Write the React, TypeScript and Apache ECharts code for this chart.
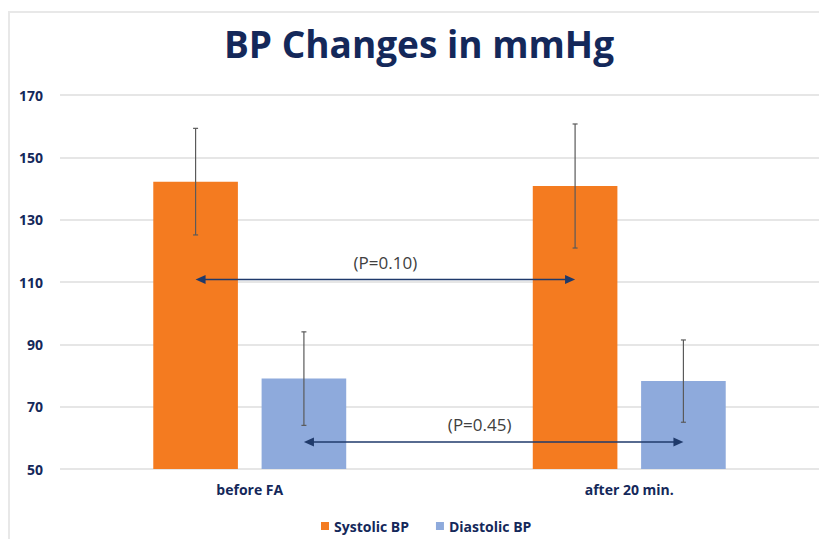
import React, { useEffect, useRef } from "react";
import * as echarts from "echarts";

const categories = ["before FA", "after 20 min."];
const seriesNames = ["Systolic BP", "Diastolic BP"];
const systolic = [142.2, 140.8];
const systolicSD = [17.1, 19.9];
const diastolic = [79, 78.2];
const diastolicSD = [15, 13.2];
const pLabels = ["(P=0.10)", "(P=0.45)"];
const arrowLevels = [110.8, 58.7];
const yTicks = { min: 50, max: 170, interval: 20 };

const BAR_W = 0.223;
const BAR_GAP = 0.28;
const NAVY = "#14285a";
const ORANGE = "#f47b20";
const BLUE = "#8eaadc";
const FONT = "'Open Sans', 'Noto Sans', sans-serif";

function seriesOffset(api: any, s: number) {
  const band = api.size([1, 0])[0];
  const bw = band * BAR_W;
  const gap = bw * BAR_GAP;
  return ((s === 0 ? -1 : 1) * (bw + gap)) / 2;
}

export default function App() {
  const ref = useRef<HTMLDivElement>(null);
  useEffect(() => {
    if (!ref.current) return;
    const chart = echarts.init(ref.current, undefined, { renderer: "svg" });

    const errorData: number[][] = [];
    categories.forEach((_, i) => {
      errorData.push([i, systolic[i] - systolicSD[i], systolic[i] + systolicSD[i], 0]);
    });
    categories.forEach((_, i) => {
      errorData.push([i, diastolic[i] - diastolicSD[i], diastolic[i] + diastolicSD[i], 1]);
    });
    const arrowData = arrowLevels.map((lv, i) => [0, lv, 1, i]);
    const labelShift = [0, -14];

    chart.setOption({
      animation: false,
      backgroundColor: "#ffffff",
      title: {
        text: "BP Changes in mmHg",
        left: 414,
        textAlign: "center",
        top: 20,
        textStyle: { fontFamily: FONT, fontSize: 37, fontWeight: "bold", color: NAVY },
      },
      graphic: [
        {
          type: "rect",
          z: -10,
          shape: { x: 9, y: 12, width: 900, height: 600 },
          style: { fill: "none", stroke: "#e8e8e8", lineWidth: 2 },
          silent: true,
        },
      ],
      legend: {
        data: seriesNames,
        left: 316,
        top: 514,
        icon: "rect",
        itemWidth: 8,
        itemHeight: 8,
        itemGap: 27,
        textStyle: { fontFamily: FONT, fontSize: 14, fontWeight: "bold", color: NAVY },
      },
      grid: { left: 60, right: 0, top: 95, bottom: 70, containLabel: false },
      xAxis: {
        type: "category",
        data: categories,
        axisLine: { show: false },
        axisTick: { show: false },
        axisLabel: { fontFamily: FONT, fontSize: 14, fontWeight: "bold", color: NAVY, margin: 13 },
      },
      yAxis: {
        type: "value",
        min: yTicks.min,
        max: yTicks.max,
        interval: yTicks.interval,
        axisLine: { show: false },
        axisTick: { show: false },
        axisLabel: { fontFamily: FONT, fontSize: 14, fontWeight: "bold", color: NAVY, margin: 17 },
        splitLine: { lineStyle: { color: "#e6e6e6", width: 2 } },
      },
      series: [
        {
          name: seriesNames[0],
          type: "bar",
          data: systolic,
          barWidth: BAR_W * 100 + "%",
          barGap: BAR_GAP * 100 + "%",
          itemStyle: { color: ORANGE },
        },
        {
          name: seriesNames[1],
          type: "bar",
          data: diastolic,
          barWidth: BAR_W * 100 + "%",
          barGap: BAR_GAP * 100 + "%",
          itemStyle: { color: BLUE },
        },
        {
          type: "custom",
          name: "error",
          z: 5,
          data: errorData,
          encode: { x: 0, y: [1, 2] },
          renderItem: (params: any, api: any) => {
            const i = api.value(0);
            const s = api.value(3);
            const off = seriesOffset(api, s);
            const lo = api.coord([i, api.value(1)]);
            const hi = api.coord([i, api.value(2)]);
            const x = lo[0] + off;
            const cap = 2.5;
            const st = { stroke: "#5a5a5a", lineWidth: 1.2 };
            return {
              type: "group",
              children: [
                { type: "line", shape: { x1: x, y1: lo[1], x2: x, y2: hi[1] }, style: st },
                { type: "line", shape: { x1: x - cap, y1: lo[1], x2: x + cap, y2: lo[1] }, style: st },
                { type: "line", shape: { x1: x - cap, y1: hi[1], x2: x + cap, y2: hi[1] }, style: st },
              ],
            };
          },
        },
        {
          type: "custom",
          name: "arrows",
          z: 6,
          data: arrowData,
          encode: { x: 0, y: 1 },
          renderItem: (params: any, api: any) => {
            const idx = api.value(3);
            const off = seriesOffset(api, idx);
            const a = api.coord([api.value(0), api.value(1)]);
            const b = api.coord([api.value(2), api.value(1)]);
            const x1 = a[0] + off;
            const x2 = b[0] + off;
            const y = a[1];
            const L = 10;
            const H = 4.5;
            const col = "#1f3a6b";
            return {
              type: "group",
              children: [
                { type: "line", shape: { x1: x1 + L - 1, y1: y, x2: x2 - L + 1, y2: y }, style: { stroke: col, lineWidth: 1.5 } },
                { type: "polygon", shape: { points: [[x1, y], [x1 + L, y - H], [x1 + L, y + H]] }, style: { fill: col } },
                { type: "polygon", shape: { points: [[x2, y], [x2 - L, y - H], [x2 - L, y + H]] }, style: { fill: col } },
                {
                  type: "text",
                  x: (x1 + x2) / 2 + labelShift[idx],
                  y: y - 17,
                  style: {
                    text: pLabels[idx],
                    fontFamily: FONT,
                    fontSize: 17,
                    fill: "#404040",
                    textAlign: "center",
                    textVerticalAlign: "middle",
                  },
                },
              ],
            };
          },
        },
      ],
    });
    return () => chart.dispose();
  }, []);
  return (
    <div
      ref={ref}
      style={{ position: "fixed", left: 0, top: 0, width: 819, height: 539, background: "#fff" }}
    />
  );
}
